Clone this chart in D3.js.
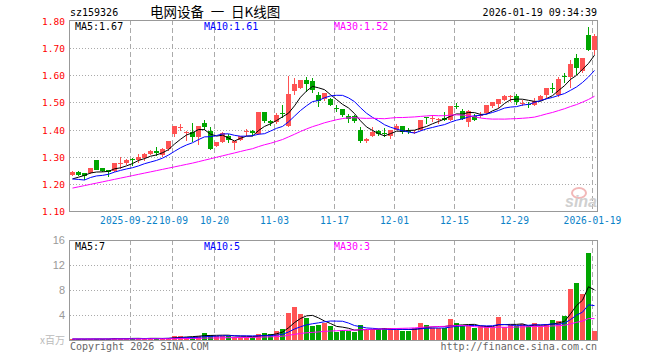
<!DOCTYPE html>
<html>
<head>
<meta charset="utf-8">
<script src="https://cdn.jsdelivr.net/npm/d3@7"></script>
<style>
body { margin: 0; background: #fff; }
svg text { font-family: "DejaVu Sans Mono", "Liberation Mono", monospace; }
</style>
</head>
<body>
<svg id="chart" width="660" height="360"></svg>
<script>
// trading days shown (2025-09-08 .. 2026-01-19)
var dates = ["09-08","09-09","09-10","09-11","09-12","09-15","09-16","09-17","09-18","09-19",
    "09-22","09-23","09-24","09-25","09-26","09-29","09-30",
    "10-09","10-10","10-13","10-14","10-15","10-16","10-17","10-20","10-21","10-22","10-23","10-24",
    "10-27","10-28","10-29","10-30","10-31",
    "11-03","11-04","11-05","11-06","11-07","11-10","11-11","11-12","11-13","11-14",
    "11-17","11-18","11-19","11-20","11-21","11-24","11-25","11-26","11-27","11-28",
    "12-01","12-02","12-03","12-04","12-05","12-08","12-09","12-10","12-11","12-12",
    "12-15","12-16","12-17","12-18","12-19","12-22","12-23","12-24","12-25","12-26",
    "12-29","12-30","12-31",
    "01-05","01-06","01-07","01-08","01-09","01-12","01-13","01-14","01-15","01-16","01-19"];

var opens = [1.231,1.245,1.240,1.240,1.287,1.257,1.250,1.248,1.275,1.276,
    1.292,1.288,1.294,1.309,1.321,1.306,1.330,1.384,1.407,1.389,
    1.391,1.372,1.426,1.396,1.341,1.355,1.378,1.352,1.360,1.393,
    1.396,1.382,1.465,1.433,1.428,1.460,1.415,1.543,1.555,1.583,
    1.579,1.528,1.512,1.512,1.480,1.477,1.449,1.451,1.400,1.357,
    1.378,1.394,1.389,1.375,1.400,1.412,1.396,1.391,1.398,1.445,
    1.440,1.437,1.444,1.434,1.487,1.468,1.428,1.451,1.452,1.462,
    1.488,1.496,1.509,1.522,1.523,1.496,1.494,1.490,1.509,1.527,
    1.553,1.527,1.596,1.595,1.663,1.614,1.749,1.694];
var highs = [1.246,1.248,1.241,1.260,1.288,1.260,1.252,1.277,1.299,1.290,
    1.294,1.309,1.312,1.325,1.337,1.333,1.358,1.415,1.421,1.396,
    1.424,1.415,1.437,1.409,1.356,1.390,1.382,1.358,1.378,1.402,
    1.398,1.466,1.466,1.437,1.460,1.491,1.599,1.589,1.584,1.593,
    1.589,1.537,1.535,1.518,1.491,1.477,1.457,1.455,1.409,1.368,
    1.410,1.398,1.404,1.398,1.420,1.412,1.404,1.400,1.435,1.447,
    1.453,1.443,1.465,1.487,1.499,1.475,1.471,1.456,1.463,1.490,
    1.500,1.512,1.527,1.527,1.530,1.509,1.502,1.517,1.527,1.553,
    1.573,1.593,1.607,1.657,1.678,1.665,1.777,1.751];
var lows = [1.228,1.228,1.216,1.238,1.250,1.244,1.224,1.245,1.256,1.270,
    1.264,1.276,1.285,1.305,1.304,1.300,1.322,1.372,1.394,1.357,
    1.355,1.345,1.400,1.323,1.337,1.351,1.349,1.323,1.358,1.378,
    1.378,1.380,1.425,1.412,1.420,1.443,1.410,1.528,1.549,1.540,
    1.534,1.485,1.507,1.488,1.465,1.445,1.424,1.424,1.351,1.351,
    1.372,1.376,1.373,1.367,1.398,1.385,1.385,1.383,1.395,1.422,
    1.428,1.422,1.432,1.431,1.474,1.434,1.410,1.431,1.441,1.458,
    1.478,1.478,1.505,1.502,1.490,1.486,1.478,1.486,1.505,1.515,
    1.536,1.521,1.570,1.552,1.601,1.607,1.688,1.675];
var closes = [1.244,1.234,1.229,1.259,1.252,1.247,1.243,1.276,1.277,1.288,
    1.290,1.300,1.310,1.321,1.312,1.330,1.357,1.413,1.409,1.391,
    1.372,1.415,1.411,1.327,1.355,1.388,1.363,1.357,1.376,1.395,
    1.389,1.465,1.433,1.424,1.455,1.458,1.532,1.568,1.583,1.568,
    1.544,1.506,1.534,1.491,1.479,1.455,1.440,1.430,1.357,1.367,
    1.390,1.382,1.388,1.398,1.412,1.391,1.395,1.392,1.435,1.444,
    1.441,1.438,1.437,1.486,1.486,1.438,1.468,1.434,1.453,1.490,
    1.500,1.512,1.525,1.523,1.502,1.497,1.492,1.505,1.525,1.552,
    1.551,1.586,1.594,1.641,1.626,1.663,1.694,1.746];
// volume, millions of shares
var volumes = [0.15,0.15,0.12,0.20,0.20,0.15,0.15,0.37,0.20,0.20,
    0.35,0.20,0.20,0.37,0.20,0.25,0.30,0.65,0.65,0.55,
    0.55,0.65,1.10,0.80,0.65,0.65,0.65,0.55,0.55,0.55,
    0.45,0.95,1.10,0.95,1.50,1.80,4.40,5.30,4.20,3.60,
    2.20,2.40,2.80,2.20,1.30,1.60,1.50,1.30,2.40,1.60,
    1.60,1.70,1.90,1.90,1.60,1.50,1.50,1.90,2.70,2.40,
    1.90,1.90,1.90,3.40,2.70,2.20,2.20,2.00,2.20,2.20,
    2.10,3.70,2.10,2.40,2.20,2.50,2.20,2.70,2.20,2.50,
    3.20,3.10,3.90,8.20,9.20,7.40,13.90,1.40];

// earlier sessions (off chart), estimated from where the MA lines start
var priorCloses = [1.096,1.091,1.121,1.114,1.109,1.105,1.138,1.139,1.150,1.152,
    1.162,1.172,1.183,1.174,1.192,1.219,1.275,1.271,1.253,1.234,
    1.254,1.250,1.166,1.194,1.227,1.202,1.196,1.215,1.234];
var priorVolumes = [0.15,0.14,0.16,0.15,0.15,0.17,0.15,0.14,0.16,0.15,
    0.15,0.16,0.14,0.15,0.17,0.15,0.16,0.15,0.14,0.15,
    0.16,0.15,0.15,0.17,0.16,0.15,0.14,0.16,0.15];

var priceTicks = [1.10,1.20,1.30,1.40,1.50,1.60,1.70,1.80];
var volTicks = [4,8,12,16];
var tickDates = ["09-22","10-09","10-20","11-03","11-17","12-01","12-15","12-29","01-19"];
var tickLabels = ["2025-09-22","10-09","10-20","11-03","11-17","12-01","12-15","12-29","2026-01-19"];
var maPeriods = [5,10,30];
var priceMaText = ["MA5:1.67","MA10:1.61","MA30:1.52"];
var volMaText = ["MA5:7","MA10:5","MA30:3"];

var UP = "#ff5353", DOWN = "#00a600";
var maColor = ["#000000","#0000ff","#ff00ff"];
var left = 70, right = 597;
var n = closes.length;

var svg = d3.select("#chart");

var x = d3.scaleBand()
    .domain(d3.range(n))
    .range([left, right])
    .paddingInner(1/6)
    .paddingOuter(0);
var yP = d3.scaleLinear().domain([1.10, 1.80]).range([211, 21]);
var yV = d3.scaleLinear().domain([0, 16]).range([340, 240]);

function movingAvg(prior, vals, k) {
    var all = prior.concat(vals);
    return vals.map(function(v, i) {
        var j = i + prior.length;
        return d3.mean(all.slice(j - k + 1, j + 1));
    });
}

function panel(y, top, bottom, ticks, tickColor, tickFmt, tickFont) {
    var g = svg.append("g");
    // dotted horizontal grid
    g.selectAll(".hgrid")
        .data(ticks.filter(function(t) { return Math.round(y(t)) > top + 1 && Math.round(y(t)) < bottom - 1; }))
        .enter().append("line")
        .attr("x1", left).attr("x2", right)
        .attr("y1", function(d) { return Math.round(y(d)) + 0.5; })
        .attr("y2", function(d) { return Math.round(y(d)) + 0.5; })
        .attr("stroke", "#aaa")
        .attr("stroke-dasharray", "1,2");
    // dashed vertical grid at date ticks
    g.selectAll(".vgrid")
        .data(tickDates)
        .enter().append("line")
        .attr("x1", function(d) { return x(dates.indexOf(d)) + 0.5; })
        .attr("x2", function(d) { return x(dates.indexOf(d)) + 0.5; })
        .attr("y1", top).attr("y2", bottom)
        .attr("stroke", "#aaa")
        .attr("stroke-dasharray", "5,3");
    // frame
    g.append("rect")
        .attr("x", left - 0.5).attr("y", top + 0.5)
        .attr("width", right - left + 1).attr("height", bottom - top)
        .attr("fill", "none")
        .attr("stroke", "#999");
    // y labels
    g.selectAll(".ylab")
        .data(ticks)
        .enter().append("text")
        .attr("x", 65)
        .attr("y", function(d) { return Math.round(y(d)) + 4; })
        .attr("text-anchor", "end")
        .attr("fill", tickColor)
        .style("font", tickFont)
        .text(tickFmt);
    return g;
}

panel(yP, 20, 211, priceTicks, "#ff0000", function(d) { return d.toFixed(2); }, "9.5px 'DejaVu Sans Mono', monospace");
panel(yV, 240, 340, volTicks, "#999", function(d) { return d; }, "11px 'Liberation Sans', Arial, sans-serif");

// clip paths for the two plot areas
var defs = svg.append("defs");
defs.append("clipPath").attr("id", "clipP").append("rect")
    .attr("x", left).attr("y", 21).attr("width", right - left).attr("height", 190);
defs.append("clipPath").attr("id", "clipV").append("rect")
    .attr("x", left).attr("y", 241).attr("width", right - left).attr("height", 99);

var idx = d3.range(n);
function isUp(i) { return closes[i] >= opens[i]; }

/* candles */
var cg = svg.append("g").attr("clip-path", "url(#clipP)").attr("shape-rendering", "crispEdges");
cg.selectAll(".wick")
    .data(idx).enter().append("line")
    .attr("x1", function(i) { return x(i) + 2.5; })
    .attr("x2", function(i) { return x(i) + 2.5; })
    .attr("y1", function(i) { return yP(highs[i]); })
    .attr("y2", function(i) { return yP(lows[i]); })
    .attr("stroke", function(i) { return isUp(i) ? UP : DOWN; });
cg.selectAll(".body")
    .data(idx).enter().append("rect")
    .attr("x", function(i) { return x(i); })
    .attr("width", x.bandwidth())
    .attr("y", function(i) { return yP(Math.max(opens[i], closes[i])); })
    .attr("height", function(i) { return Math.max(1, Math.abs(yP(opens[i]) - yP(closes[i]))); })
    .attr("fill", function(i) { return isUp(i) ? UP : DOWN; });

/* volume bars */
var vg = svg.append("g").attr("clip-path", "url(#clipV)").attr("shape-rendering", "crispEdges");
vg.selectAll(".vbar")
    .data(idx).enter().append("rect")
    .attr("x", function(i) { return x(i); })
    .attr("width", x.bandwidth())
    .attr("y", function(i) { return yV(volumes[i]); })
    .attr("height", function(i) { return yV(0) - yV(volumes[i]); })
    .attr("fill", function(i) { return isUp(i) ? UP : DOWN; });

/* moving averages */
function drawMAs(g, prior, vals, y) {
    maPeriods.forEach(function(k, m) {
        var ma = movingAvg(prior, vals, k);
        var line = d3.line()
            .x(function(d, i) { return x(i) + 2.5; })
            .y(function(d) { return y(d); });
        g.append("path")
            .attr("d", line(ma))
            .attr("fill", "none")
            .attr("stroke", maColor[m])
            .attr("stroke-width", 1);
    });
}
drawMAs(svg.append("g").attr("clip-path", "url(#clipP)"), priorCloses, closes, yP);
drawMAs(svg.append("g").attr("clip-path", "url(#clipV)"), priorVolumes, volumes, yV);

/* MA legends */
var legendX = [75, 204, 334];
function legend(texts, yb) {
    svg.selectAll(null)
        .data(texts).enter().append("text")
        .attr("x", function(d, i) { return legendX[i]; })
        .attr("y", yb)
        .attr("fill", function(d, i) { return maColor[i]; })
        .style("font-size", "10px")
        .text(function(d) { return d; });
}
legend(priceMaText, 30);
legend(volMaText, 250);

/* date axis labels: first one pulled left a touch so it only abuts the next */
svg.selectAll(".xlab")
    .data(tickDates).enter().append("text")
    .attr("x", function(d, i) { return x(dates.indexOf(d)) + 0.5 - (i === 0 ? 1.5 : 0) + (i === 1 ? 1 : 0); })
    .attr("y", 224)
    .attr("text-anchor", "middle")
    .attr("fill", "#0a82c8")
    .style("font-size", "9.6px")
    .text(function(d, i) { return tickLabels[i]; });

/* header */
svg.append("text").attr("x", 70).attr("y", 16).style("font-size", "10px").attr("fill", "#000").text("sz159326");
svg.append("text").attr("x", 150).attr("y", 17)
    .style("font", "13.5px 'Noto Sans CJK SC', sans-serif").attr("fill", "#000")
    .text("电网设备\u2002一\u2002日K线图");
svg.append("text").attr("x", 597).attr("y", 16).attr("text-anchor", "end")
    .style("font-size", "10px").attr("fill", "#000").text("2026-01-19 09:34:39");

/* footer */
svg.append("text").attr("x", 65).attr("y", 344).attr("text-anchor", "end")
    .style("font", "10px 'Noto Sans CJK SC', sans-serif").attr("fill", "#bbb").text("x百万");
svg.append("text").attr("x", 70).attr("y", 350).style("font-size", "10px").attr("fill", "#666")
    .text("Copyright 2026 SINA.COM");
svg.append("text").attr("x", 597).attr("y", 350).attr("text-anchor", "end")
    .style("font-size", "10px").attr("fill", "#666").text("http://finance.sina.com.cn");

/* faint sina watermark */
svg.append("ellipse").attr("cx", 579).attr("cy", 193).attr("rx", 7).attr("ry", 5)
    .attr("fill", "none").attr("stroke", "#f2b8b8").attr("stroke-width", 2);
svg.append("text").attr("x", 565).attr("y", 207)
    .style("font", "italic bold 16px 'Liberation Sans', Arial, sans-serif")
    .attr("fill", "#d0d0d0").text("sina");
</script>
</body>
</html>
